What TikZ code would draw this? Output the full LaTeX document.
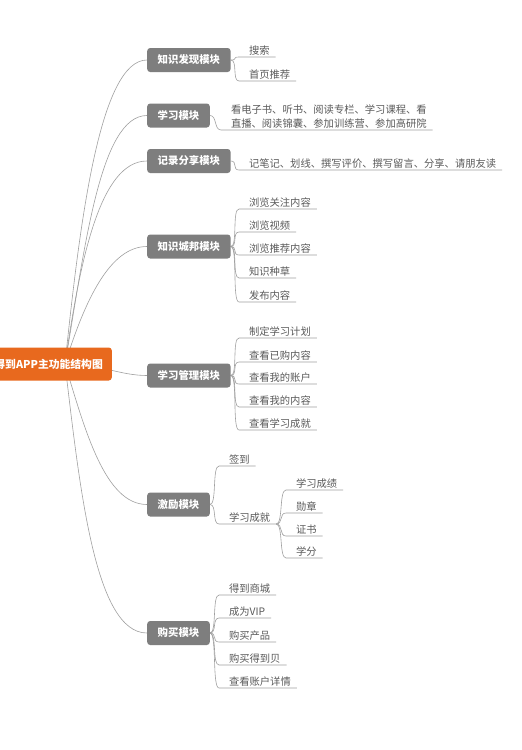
\documentclass[tikz,border=0pt]{standalone}
\usepackage{fontspec}
\setmainfont{Noto Sans CJK SC}
\usetikzlibrary{calc}
\pgfdeclarelayer{paper}
\pgfdeclarelayer{bg}
\pgfsetlayers{paper,bg,main}
\definecolor{rootc}{HTML}{E8691E}
\definecolor{modc}{HTML}{7E7E7E}
\definecolor{linec}{HTML}{A0A0A0}
\definecolor{txtc}{HTML}{5A5A5A}
\tikzset{
  rootbox/.style={fill=rootc, rounded corners=3pt, text=white,
    font=\fontsize{10.8}{13}\selectfont\bfseries, minimum height=33pt,
    inner xsep=9pt, inner ysep=0pt, anchor=east},
  modbox/.style={fill=modc, rounded corners=3pt, text=white,
    font=\fontsize{10.4}{12}\selectfont\bfseries, minimum height=24pt,
    inner xsep=10.5pt, inner ysep=0pt, anchor=west},
  leaf/.style={anchor=south west, inner sep=0pt, outer sep=0pt, text depth=3pt,
    text=txtc, font=\fontsize{10.3}{14}\selectfont},
  conn/.style={draw=linec, line width=0.6pt},
}
\newcommand\twig[2]{\draw[conn] (#1) .. controls +(7,0) and +(-7,0) .. ([xshift=-10pt]#2.south west) -- ([xshift=6pt]#2.south east);}
\begin{document}
\begin{tikzpicture}[x=1pt,y=-1pt]
\begin{pgfonlayer}{paper}
\fill[white] (0,0) rectangle (522,750);
\end{pgfonlayer}
\useasboundingbox (0,0) rectangle (522,750);

% root
\node[rootbox] (root) at (112,364) {得到APP主功能结构图};
\coordinate (rs) at (65,364);

% modules
\node[modbox] (m1) at (147,60) {知识发现模块};
\node[modbox] (m2) at (147,115.5) {学习模块};
\node[modbox] (m3) at (147,161) {记录分享模块};
\node[modbox] (m4) at (147,246.5) {知识城邦模块};
\node[modbox] (m5) at (147,375.5) {学习管理模块};
\node[modbox] (m6) at (147,504.5) {激励模块};
\node[modbox] (m7) at (147,633) {购买模块};

% leaves
\node[leaf] (a1) at (249,57) {搜索};
\node[leaf] (a2) at (249,81) {首页推荐};

\node[leaf] (b1) at (231,130) {\begin{tabular}[b]{@{}l@{}}看电子书、听书、阅读专栏、学习课程、看\\直播、阅读锦囊、参加训练营、参加高研院\end{tabular}};

\node[leaf] (c1) at (249,170) {记笔记、划线、撰写评价、撰写留言、分享、请朋友读};

\node[leaf] (d1) at (249,209) {浏览关注内容};
\node[leaf] (d2) at (249,232) {浏览视频};
\node[leaf] (d3) at (249,255) {浏览推荐内容};
\node[leaf] (d4) at (249,278) {知识种草};
\node[leaf] (d5) at (249,302) {发布内容};

\node[leaf] (e1) at (249,338) {制定学习计划};
\node[leaf] (e2) at (249,362) {查看已购内容};
\node[leaf] (e3) at (249,384) {查看我的账户};
\node[leaf] (e4) at (249,407) {查看我的内容};
\node[leaf] (e5) at (249,430) {查看学习成就};

\node[leaf] (f1) at (229,466) {签到};
\node[leaf] (f2) at (229,524) {学习成就};
\node[leaf] (g1) at (296,490) {学习成绩};
\node[leaf] (g2) at (296,513) {勋章};
\node[leaf] (g3) at (296,536) {证书};
\node[leaf] (g4) at (296,558) {学分};

\node[leaf] (h1) at (229,595) {得到商城};
\node[leaf] (h2) at (229,618) {成为VIP};
\node[leaf] (h3) at (229,642) {购买产品};
\node[leaf] (h4) at (229,665) {购买得到贝};
\node[leaf] (h5) at (229,688) {查看账户详情};

\begin{pgfonlayer}{bg}
  \draw[conn] (rs) .. controls +(15,-144) and +(-47,0) .. (m1.west);
  \draw[conn] (rs) .. controls +(20,-117) and +(-47,0) .. (m2.west);
  \draw[conn] (rs) .. controls +(15,-104) and +(-47,0) .. (m3.west);
  \draw[conn] (rs) .. controls +(20,-64) and +(-37,0) .. (m4.west);
  \draw[conn] (rs) .. controls +(35,0) and +(-27,0) .. (m5.west);
  \draw[conn] (rs) .. controls +(20,66) and +(-42,0) .. (m6.west);
  \draw[conn] (rs) .. controls +(15,126) and +(-52,0) .. (m7.west);

  \twig{m1.east}{a1}
  \twig{m1.east}{a2}
  \twig{m2.east}{b1}
  \twig{m3.east}{c1}
  \twig{m4.east}{d1}
  \twig{m4.east}{d2}
  \twig{m4.east}{d3}
  \twig{m4.east}{d4}
  \twig{m4.east}{d5}
  \twig{m5.east}{e1}
  \twig{m5.east}{e2}
  \twig{m5.east}{e3}
  \twig{m5.east}{e4}
  \twig{m5.east}{e5}
  \twig{m6.east}{f1}
  \twig{m6.east}{f2}
  \twig{[xshift=6pt]f2.south east}{g1}
  \twig{[xshift=6pt]f2.south east}{g2}
  \twig{[xshift=6pt]f2.south east}{g3}
  \twig{[xshift=6pt]f2.south east}{g4}
  \twig{m7.east}{h1}
  \twig{m7.east}{h2}
  \twig{m7.east}{h3}
  \twig{m7.east}{h4}
  \twig{m7.east}{h5}
\end{pgfonlayer}
\end{tikzpicture}
\end{document}
